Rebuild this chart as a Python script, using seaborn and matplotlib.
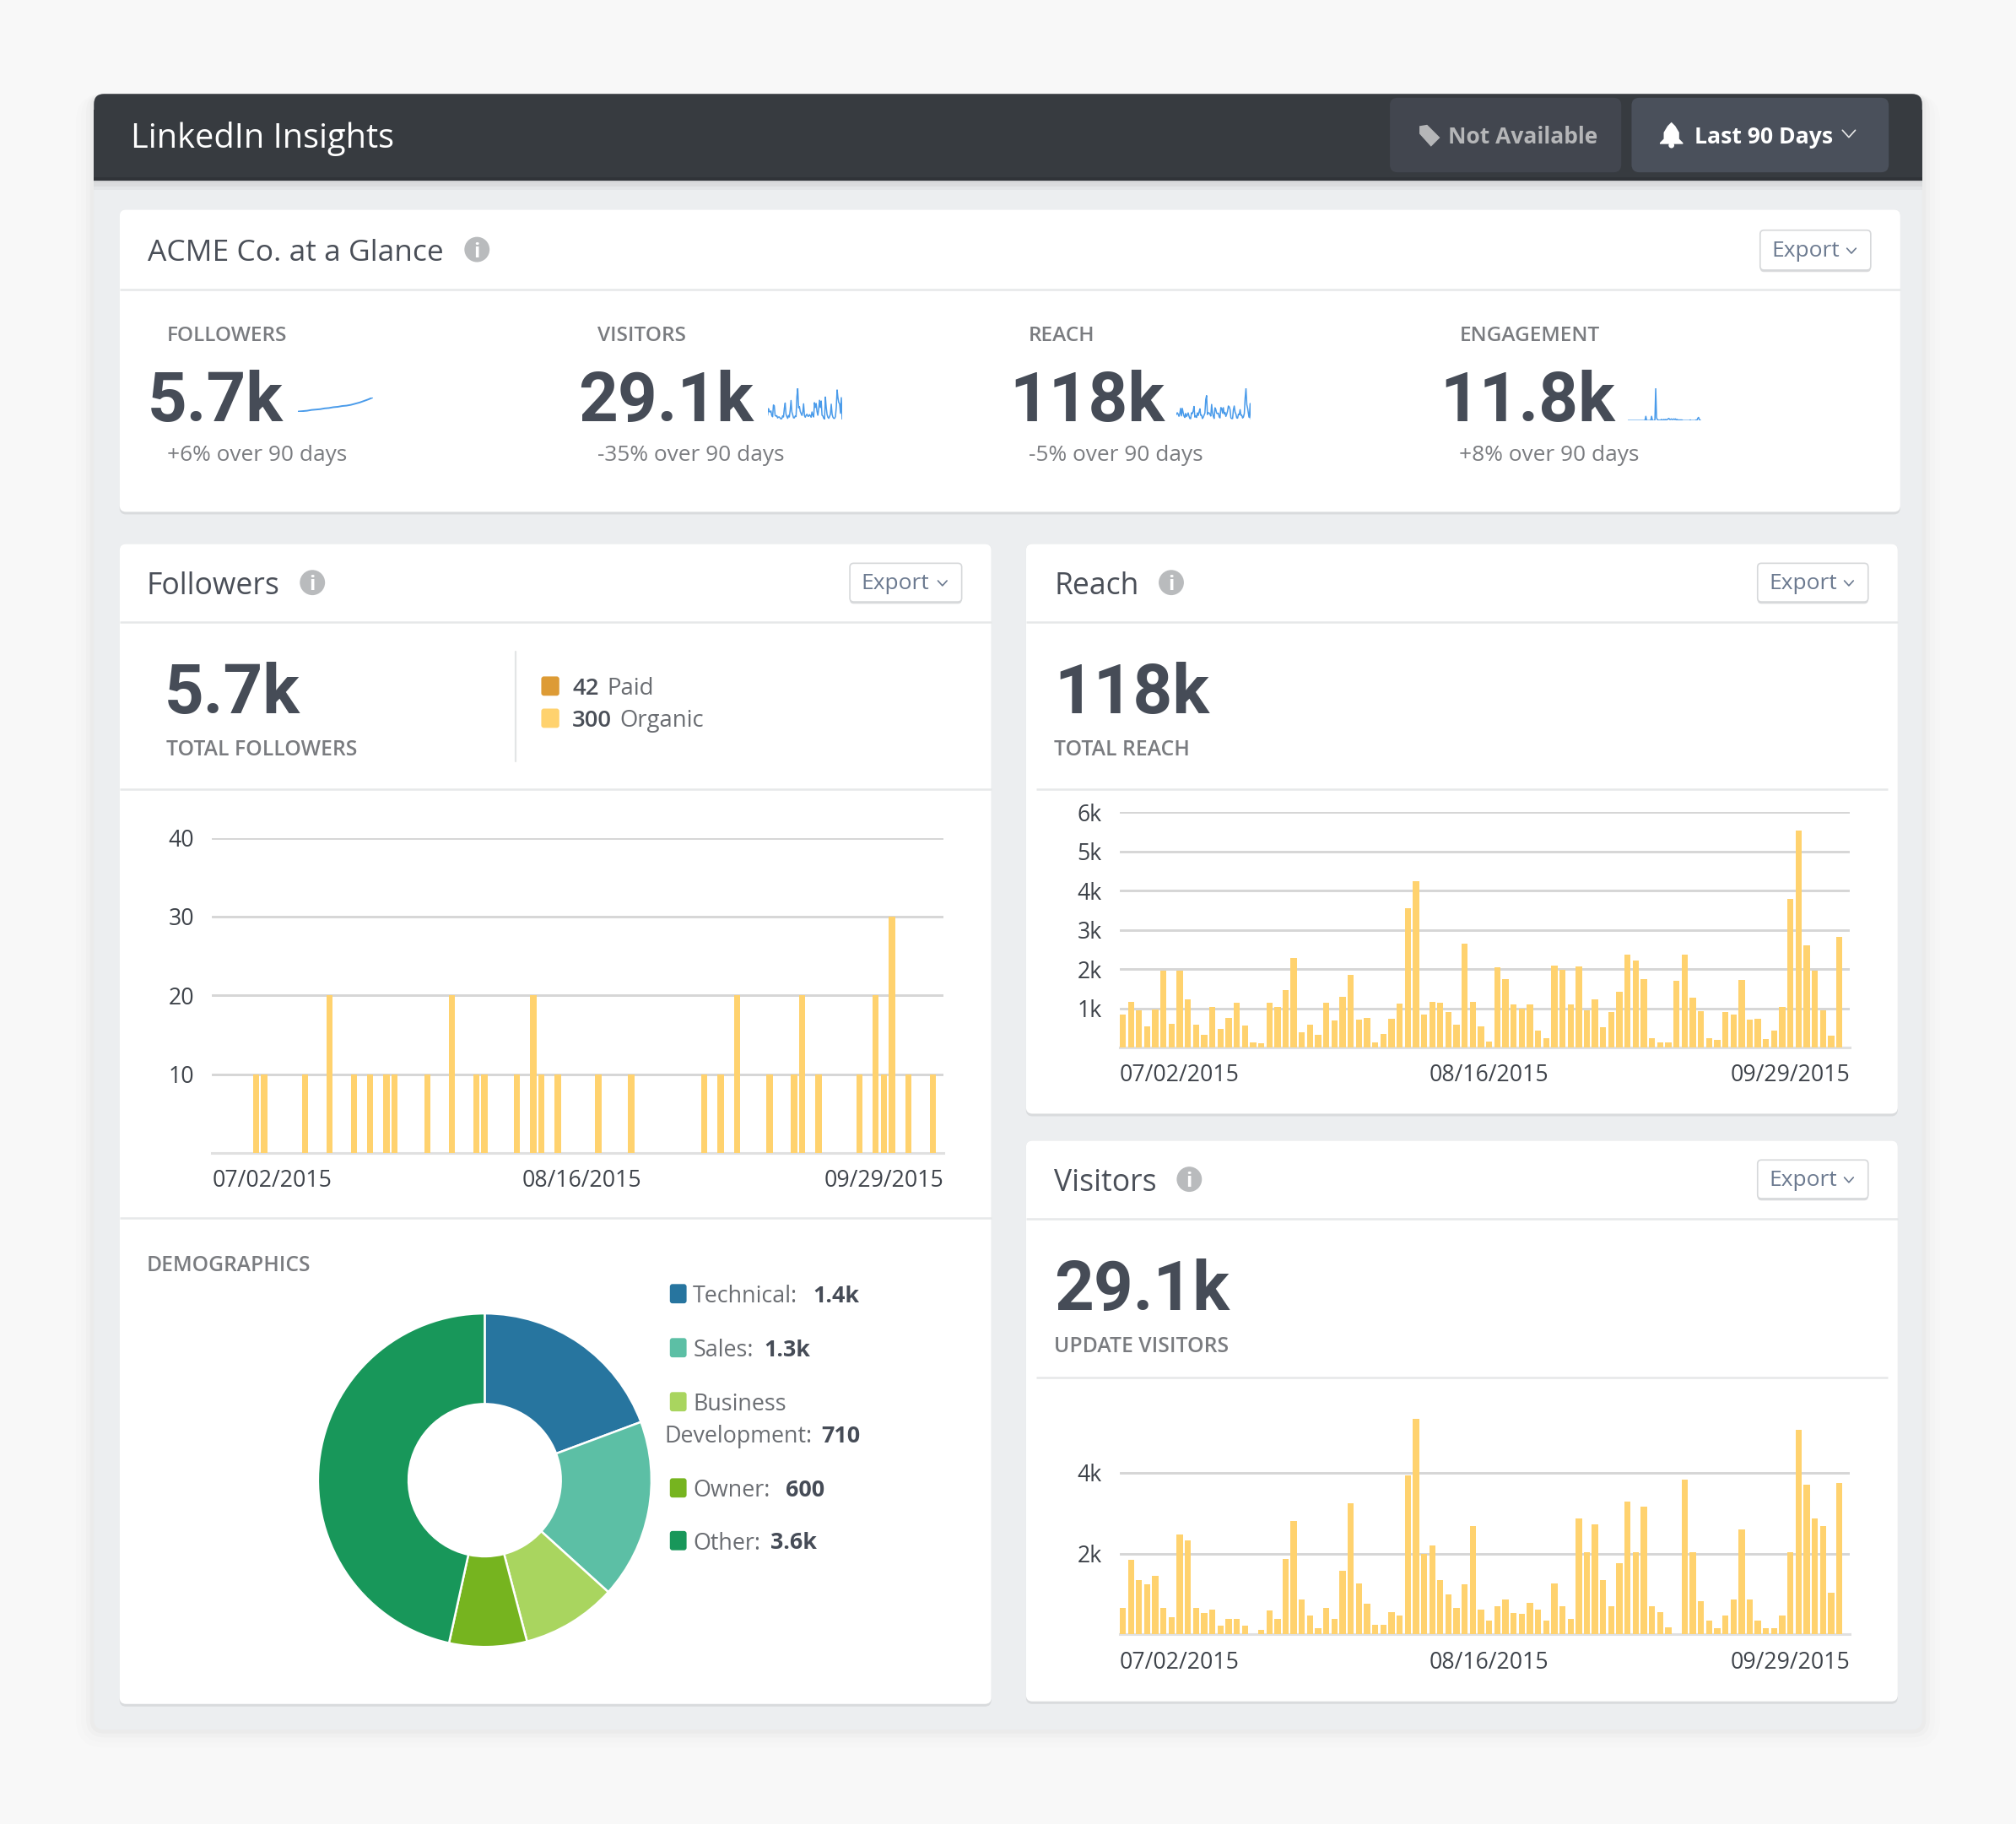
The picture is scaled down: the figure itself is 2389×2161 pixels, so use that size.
import matplotlib
matplotlib.use("Agg")
import matplotlib.pyplot as plt
from matplotlib.patches import FancyBboxPatch, Rectangle, Polygon, Circle
import numpy as np
import seaborn as sns

# ---------- data ----------
date_labels = ["07/02/2015", "08/16/2015", "09/29/2015"]
followers_daily = [0,0,0,0,0,10,10,0,0,0,0,10,0,0,20,0,0,10,0,10,0,10,10,0,0,0,10,0,0,20,
                   0,0,10,10,0,0,0,10,0,20,10,0,10,0,0,0,0,10,0,0,0,10,0,0,0,0,0,0,0,0,
                   10,0,10,0,20,0,0,0,10,0,0,10,20,0,10,0,0,0,0,10,0,20,10,30,0,10,0,0,10,0]
reach_k = [0.84,1.17,0.94,0.53,0.97,1.95,0.60,1.95,1.22,0.58,0.32,1.04,0.48,0.75,1.14,0.55,0.13,0.11,1.14,1.03,
           1.47,2.29,0.38,0.58,0.32,1.14,0.68,1.28,1.86,0.71,0.75,0.13,0.35,0.73,1.12,3.56,4.23,0.84,1.17,1.13,
           0.91,0.57,2.65,1.17,0.53,0.14,2.05,1.75,1.09,0.99,1.10,0.42,0.24,2.09,1.98,1.09,2.07,0.94,1.23,0.51,
           0.91,1.42,2.37,2.22,1.75,0.24,0.13,0.12,1.71,2.37,1.27,0.93,0.24,0.19,0.91,0.83,1.72,0.70,0.73,0.22,
           0.42,1.03,3.78,5.53,2.61,1.96,0.94,0.31,2.81,0]
visitors_k = [0.66,1.84,1.35,1.24,1.44,0.66,0.43,2.46,2.32,0.66,0.54,0.62,0.22,0.39,0.39,0.22,0.01,0.12,0.59,0.39,
              1.87,2.80,0.87,0.46,0.15,0.66,0.39,1.58,3.24,1.26,0.76,0.24,0.24,0.56,0.46,3.92,5.33,1.98,2.19,1.35,
              0.99,0.66,1.24,2.67,0.62,0.35,0.69,0.87,0.54,0.51,0.79,0.62,0.35,1.26,0.69,0.39,2.87,2.03,2.72,1.35,
              0.69,1.76,3.28,2.03,3.15,0.69,0.56,0.18,0,3.83,2.03,0.83,0.35,0.15,0.46,0.87,2.60,0.87,0.35,0.15,
              0.15,0.46,2.03,5.06,3.69,2.87,2.67,1.03,3.73,0]
engagement_k = [0.1,0.1,0.1,0.1,0.1,0.1,0.1,0.1,0.1,0.1,0.1,0.1,0.1,0.1,0.1,0.1,0.1,0.1,0.1,0.1,
                0.1,0.1,0.9,0.1,0.1,0.1,0.1,0.1,0.1,0.9,0.1,0.1,0.1,0.1,6.2,0.6,0.3,0.1,0.2,0.1,
                0.2,0.3,0.2,0.2,0.3,0.2,0.3,0.2,0.3,0.4,0.5,0.3,0.3,0.4,0.3,0.3,0.4,0.3,0.4,0.2,
                0.3,0.2,0.2,0.2,0.2,0.2,0.2,0.1,0.1,0.1,0.1,0.1,0.1,0.1,0.1,0.1,0.2,0.1,0.1,0.1,
                0.1,0.1,0.1,0.2,0.1,0.5,0.7,0.3,0.1,0.1]
followers_total = [5.38,5.39,5.40,5.42,5.43,5.44,5.46,5.47,5.49,5.50,5.52,5.53,5.55,5.58,5.61,5.65,5.69,5.74]
demo_labels = ["Technical", "Sales", "Business Development", "Owner", "Other"]
demo_shown = ["1.4k", "1.3k", "710", "600", "3.6k"]
demo_values = [1490, 1340, 710, 580, 3590]
demo_colors = ["#27759F", "#5CBFA5", "#A9D55F", "#76B41F", "#18975A"]
stat_heads = ["FOLLOWERS", "VISITORS", "REACH", "ENGAGEMENT"]
stat_values = ["5.7k", "29.1k", "118k", "11.8k"]
stat_notes = ["+6% over 90 days", "-35% over 90 days", "-5% over 90 days", "+8% over 90 days"]

# ---------- style ----------
sns.set_theme(style="white")
OS = ["Open Sans", "DejaVu Sans"]
RB = ["Roboto", "DejaVu Sans"]
plt.rcParams["font.family"] = OS

W, H = 2389, 2161
K = 2389 / 1568            # reference layout unit -> pixel
fig = plt.figure(figsize=(W / 200, H / 200), dpi=200, facecolor="#F8F8F8")
UW, UH = W / K, H / K

bg = fig.add_axes([0, 0, 1, 1], zorder=0)
bg.set_xlim(0, UW); bg.set_ylim(UH, 0); bg.axis("off")

def box(x0, y0, x1, y1, fc, ec="none", r=0, lw=0, z=1, alpha=1):
    if r:
        p = FancyBboxPatch((x0 + r, y0 + r), x1 - x0 - 2 * r, y1 - y0 - 2 * r,
                           boxstyle=f"round,pad={r},rounding_size={r}", fc=fc, ec=ec, lw=lw, zorder=z, alpha=alpha)
    else:
        p = Rectangle((x0, y0), x1 - x0, y1 - y0, fc=fc, ec=ec, lw=lw, zorder=z, alpha=alpha)
    bg.add_patch(p)

def T(x, y, s, size, color="#4A4F58", weight="normal", ha="left", fam=OS):
    bg.text(x, y, s, fontsize=size, color=color, fontweight=weight, ha=ha, va="center_baseline", family=fam, zorder=5)

def chevron(x, y, c, s=4):
    bg.plot([x - s, x, x + s], [y - s * .55, y + s * .55, y - s * .55], color=c, lw=.6, zorder=5)

def info(x, y):
    bg.add_patch(Circle((x, y), 9.8, fc="#B9BBBD", ec="none", zorder=5))
    T(x, y, "i", 8.5, "white", "bold", "center")

def export(x0, y0, x1, y1):
    box(x0, y0 + 1.5, x1, y1 + 1.5, "#DADBDD", r=3, z=3)
    box(x0, y0, x1, y1, "white", ec="#D6D8DA", r=3, lw=.6, z=4)
    T(x0 + 9, (y0 + y1) / 2 - 1, "Export", 9.5, "#6C7A90")
    chevron(x1 - 15, (y0 + y1) / 2 + .5, "#6C7A90", 3.5)

def panel(x0, y0, x1, y1):
    box(x0, y0, x1, y1 + 2, "#D9DBDD", r=5, z=2)
    box(x0, y0, x1, y1, "white", r=5, z=2.5)

def rule(x0, x1, y, c="#E6E8E9", lw=.9):
    bg.plot([x0, x1], [y, y], color=c, lw=lw, zorder=3, solid_capstyle="butt")

# ---------- chrome ----------
for i, a in zip((14, 10, 6, 3), (.006, .009, .014, .018)):
    box(73 - i, 73, 1495 + i, 1345 + i, "#000000", r=8 + i, z=.5, alpha=a)
box(73, 73, 1495, 1345, "#ECEEF0", r=8, z=1)
box(73, 73, 1495, 100, "#373B40", r=8, z=1.2)
box(73, 85, 1495, 140, "#373B40", z=1.2)
box(73, 138, 1495, 140.5, "#303338", z=1.3)
for i, a in zip((8, 5, 2), (.03, .04, .05)):
    box(73, 140, 1495, 140 + i, "#000000", z=1.25, alpha=a)
T(102, 105, "LinkedIn Insights", 14.3, "white")
box(1081, 76, 1261, 134, "#42464F", r=6, z=2)
box(1269, 76, 1469, 134, "#4A505B", r=6, z=2)
T(1126, 105, "Not Available", 9.5, "#B5B6B8", "bold")
T(1318, 105, "Last 90 Days", 9.6, "white", "bold")
chevron(1438, 104, "#E8E8E8", 5)
bg.add_patch(Polygon([(1104, 98), (1110, 97), (1120, 107), (1113, 114), (1104, 104)], fc="#B5B6B8", ec="none", zorder=5))
bg.add_patch(Polygon([(1300, 95), (1303, 98), (1306, 103), (1306, 108), (1309, 111), (1309, 112), (1291, 112), (1291, 111),
                      (1294, 108), (1294, 103), (1297, 98)], fc="white", ec="none", zorder=5))
bg.add_patch(Circle((1300, 113), 2.2, fc="white", ec="none", zorder=5))

panel(93, 163, 1478, 398)
panel(93, 423, 771, 1325)
panel(798, 423, 1476, 866)
panel(798, 887, 1476, 1323)
rule(93, 1478, 225); rule(93, 771, 484); rule(93, 771, 614); rule(93, 771, 947)
rule(798, 1476, 484); rule(806, 1468, 614); rule(798, 1476, 948); rule(806, 1468, 1071)
bg.plot([401, 401], [507, 592], color="#E3E5E6", lw=.8, zorder=3)

T(115, 194, "ACME Co. at a Glance", 12.75); info(371, 194)
T(114, 453, "Followers", 12.8); info(243, 453)
T(820, 453, "Reach", 12.8); info(911, 453)
T(820, 917, "Visitors", 12.8); info(925, 917)
export(1369, 179, 1455, 210); export(661, 438, 748, 468)
export(1367, 438, 1453, 468); export(1367, 902, 1453, 932)

BIG = "#464C57"; GREY = "#7A7C80"
for x, h, v, n in zip((130, 465, 800, 1135), stat_heads, stat_values, stat_notes):
    T(x, 259, h, 8.8, GREY, "semibold")
    T(x - 15, 307.5, v, 29.4, BIG, "bold", fam=RB)
    T(x, 352, n, 9.45, GREY)

T(128, 534.5, stat_values[0], 29.4, BIG, "bold", fam=RB)
T(129, 581, "TOTAL FOLLOWERS", 8.9, GREY, "semibold")
T(820, 534.5, stat_values[2], 29.4, BIG, "bold", fam=RB)
T(820, 581, "TOTAL REACH", 8.9, GREY, "semibold")
T(820, 998.5, stat_values[1], 29.4, BIG, "bold", fam=RB)
T(820, 1045, "UPDATE VISITORS", 8.9, GREY, "semibold")
box(421, 526, 435, 541, "#DD9B35", r=2, z=4)
box(421, 551, 435, 566, "#FFD26E", r=2, z=4)
T(445, 533, "42", 9.9, "#4A4F58", "semibold"); T(472, 533, "Paid", 9.9, "#6A6D72")
T(445, 558, "300", 9.9, "#4A4F58", "semibold"); T(482, 558, "Organic", 9.9, "#6A6D72")
T(114, 982, "DEMOGRAPHICS", 8.85, GREY, "semibold")

# demographics legend
for c, y in zip(demo_colors, (1006, 1048, 1090, 1157, 1198)):
    box(521, y - 7.5, 534, y + 7.5, c, r=2, z=4)
T(539, 1006, "Technical:", 9.7, "#6A6D72"); T(632, 1006, demo_shown[0], 9.7, BIG, "bold")
T(539, 1048, "Sales:", 9.7, "#6A6D72"); T(594, 1048, demo_shown[1], 9.7, BIG, "bold")
T(539, 1090, "Business", 9.7, "#6A6D72")
T(517, 1115, "Development:", 9.7, "#6A6D72"); T(639, 1115, demo_shown[2], 9.7, BIG, "bold")
T(539, 1157, "Owner:", 9.7, "#6A6D72"); T(611, 1157, demo_shown[3], 9.7, BIG, "bold")
T(539, 1198, "Other:", 9.7, "#6A6D72"); T(599, 1198, demo_shown[4], 9.7, BIG, "bold")

# ---------- charts ----------
def axes_at(x0, y0, x1, y1):
    a = fig.add_axes([x0 / UW, 1 - y1 / UH, (x1 - x0) / UW, (y1 - y0) / UH], zorder=2)
    a.patch.set_alpha(0)
    return a

def bars(x0, y0, x1, y1, values, ymax, yticks, ylabels):
    a = axes_at(x0, y0, x1, y1)
    days = np.arange(len(values))
    sns.barplot(x=days, y=values, ax=a, color="#FFD26E", saturation=1, width=.76, native_scale=True,
                linewidth=0, zorder=3)
    lo, hi = -.36, 89.33
    a.set_xlim(lo, hi); a.set_ylim(0, ymax)
    a.set_xticks([lo, 45, hi], date_labels)
    a.set_xticks([lo, hi], minor=True)
    a.tick_params(axis="x", which="major", length=0, pad=7, labelsize=9.6, labelcolor="#3E434A")
    a.tick_params(axis="x", which="minor", length=3.2, width=.6, color="#DDDDDD", bottom=True)
    lab = a.get_xticklabels()
    lab[0].set_ha("left"); lab[2].set_ha("right")
    a.set_yticks(yticks, ylabels)
    a.tick_params(axis="y", length=0, pad=7.6, labelsize=9.6, labelcolor="#3E434A")
    a.yaxis.grid(True, color="#D6D6D6", lw=1.05); a.xaxis.grid(False)
    a.set_axisbelow(True)
    a.set_xlabel(""); a.set_ylabel("")
    for s in ("top", "left", "right"):
        a.spines[s].set_visible(False)
    a.spines["bottom"].set_color("#E0E0E0"); a.spines["bottom"].set_linewidth(1.1)
    return a

bars(165, 651.5, 734, 896.5, followers_daily, 40, [10, 20, 30, 40], ["10", "20", "30", "40"])
bars(871, 631.5, 1439, 814.5, reach_k, 6, [1, 2, 3, 4, 5, 6], ["1k", "2k", "3k", "4k", "5k", "6k"])
bars(871, 1082, 1439, 1271, visitors_k, 6, [2, 4], ["2k", "4k"])

# sparklines
def spark(x0, y0, x1, y1, values, lw=.55):
    a = axes_at(x0, y0, x1, y1)
    sns.lineplot(x=np.arange(len(values)), y=values, ax=a, color="#4A9BEA", lw=lw)
    a.set_xlim(0, len(values) - 1)
    a.set_ylim(min(values), max(values))
    a.axis("off")

spark(232, 309, 290, 320, followers_total, .7)
spark(597, 302, 655, 326, visitors_k)
spark(915, 302, 973, 326, reach_k)
spark(1266, 302, 1323, 327, engagement_k)

# donut
d = axes_at(248, 1022, 506, 1280)
d.pie(demo_values, colors=sns.color_palette(demo_colors), startangle=90, counterclock=False, radius=1,
      wedgeprops=dict(width=.543, edgecolor="white", linewidth=.9))
d.set_xlim(-.995, .995); d.set_ylim(-.995, .995)

fig.savefig("out.png", dpi=200, facecolor=fig.get_facecolor())
